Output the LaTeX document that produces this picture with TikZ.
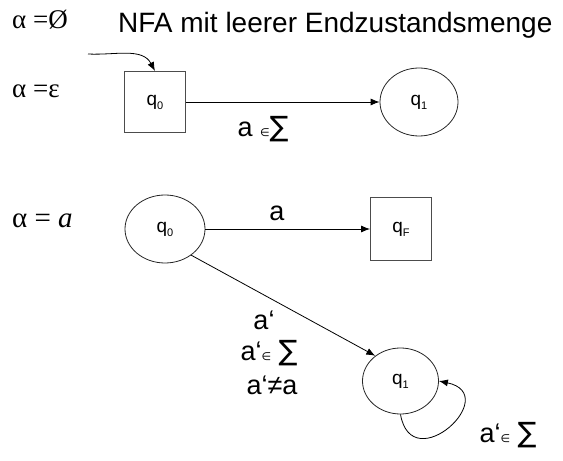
\documentclass[tikz,border=0pt]{standalone}
\usepackage{fontspec}
\setmainfont{Liberation Sans}
\newfontfamily\serifA{Liberation Serif}
\newfontfamily\dejavu{DejaVu Sans}
\usetikzlibrary{arrows.meta,shapes.geometric}
\newcommand{\smallin}{{\dejavu\fontsize{11}{11}\selectfont ∈}}
\newcommand{\bigsum}{{\dejavu\fontsize{28}{28}\selectfont ∑}}
\newcommand{\qsub}[1]{q\raisebox{-4pt}{\fontsize{11}{11}\selectfont #1}}
\begin{document}
\begin{tikzpicture}[x=1pt,y=1pt,
  state/.style={draw=black!85, line width=0.8pt, ellipse, minimum width=78pt, minimum height=68pt, inner sep=0pt, font=\fontsize{19}{19}\selectfont},
  boxstate/.style={draw=black!70, line width=0.9pt, rectangle, minimum width=61pt, minimum height=61pt, inner sep=0pt, font=\fontsize{19}{19}\selectfont},
  edgelab/.style={font=\fontsize{27}{27}\selectfont, inner sep=0pt},
  arr/.style={line width=0.8pt, -{Latex[length=9pt,width=7pt]}},
  greek/.style={font=\serifA\fontsize{27}{27}\selectfont, anchor=base west, inner sep=0pt}
]
\useasboundingbox (0,0) rectangle (563,461);
% texts on the left
\node[greek] (al1) at (12,432) {α =Ø};
\node[anchor=base west, inner sep=0pt, font=\fontsize{28}{28}\selectfont] (title) at (118,428) {NFA mit leerer Endzustandsmenge};
\node[greek] (al2) at (12,363) {α =ε};
\node[greek, font=\serifA\fontsize{29}{29}\selectfont] (al3) at (12,233) {α = \textit{a}};
% first automaton
\node[boxstate] (q0a) at (155,359) {\qsub{0}};
\node[state] (q1a) at (419,359) {\qsub{1}};
\coordinate (start) at (88,407);
\draw[arr] (start) to[out=-3,in=118] (q0a.north);
\draw[arr] (q0a.east) -- (q1a.west);
\node[edgelab] (la) at (263,332) {a \smallin\bigsum};
% second automaton
\node[state, minimum width=80pt] (q0b) at (165,232) {\qsub{0}};
\node[boxstate, minimum height=63pt] (qF) at (401,232) {\qsub{F}};
\node[state, minimum width=76pt, minimum height=66pt] (q1b) at (400.5,80) {\qsub{1}};
\draw[arr] (q0b.east) -- (qF.west);
\node[edgelab] (lb) at (277,248) {a};
\draw[arr] (q0b.-45) -- (q1b.135);
\node[edgelab] (lc1) at (264,141) {a‘};
\node[edgelab] (lc2) at (269,108) {a‘\smallin\ \bigsum};
\node[edgelab] (lc3) at (272,76) {a‘≠a};
\draw[arr] (q1b.south) to[out=-80,in=-12,looseness=3.3] (q1b.east);
\node[edgelab] (ld) at (508,26) {a‘\smallin\ \bigsum};
\end{tikzpicture}
\end{document}
